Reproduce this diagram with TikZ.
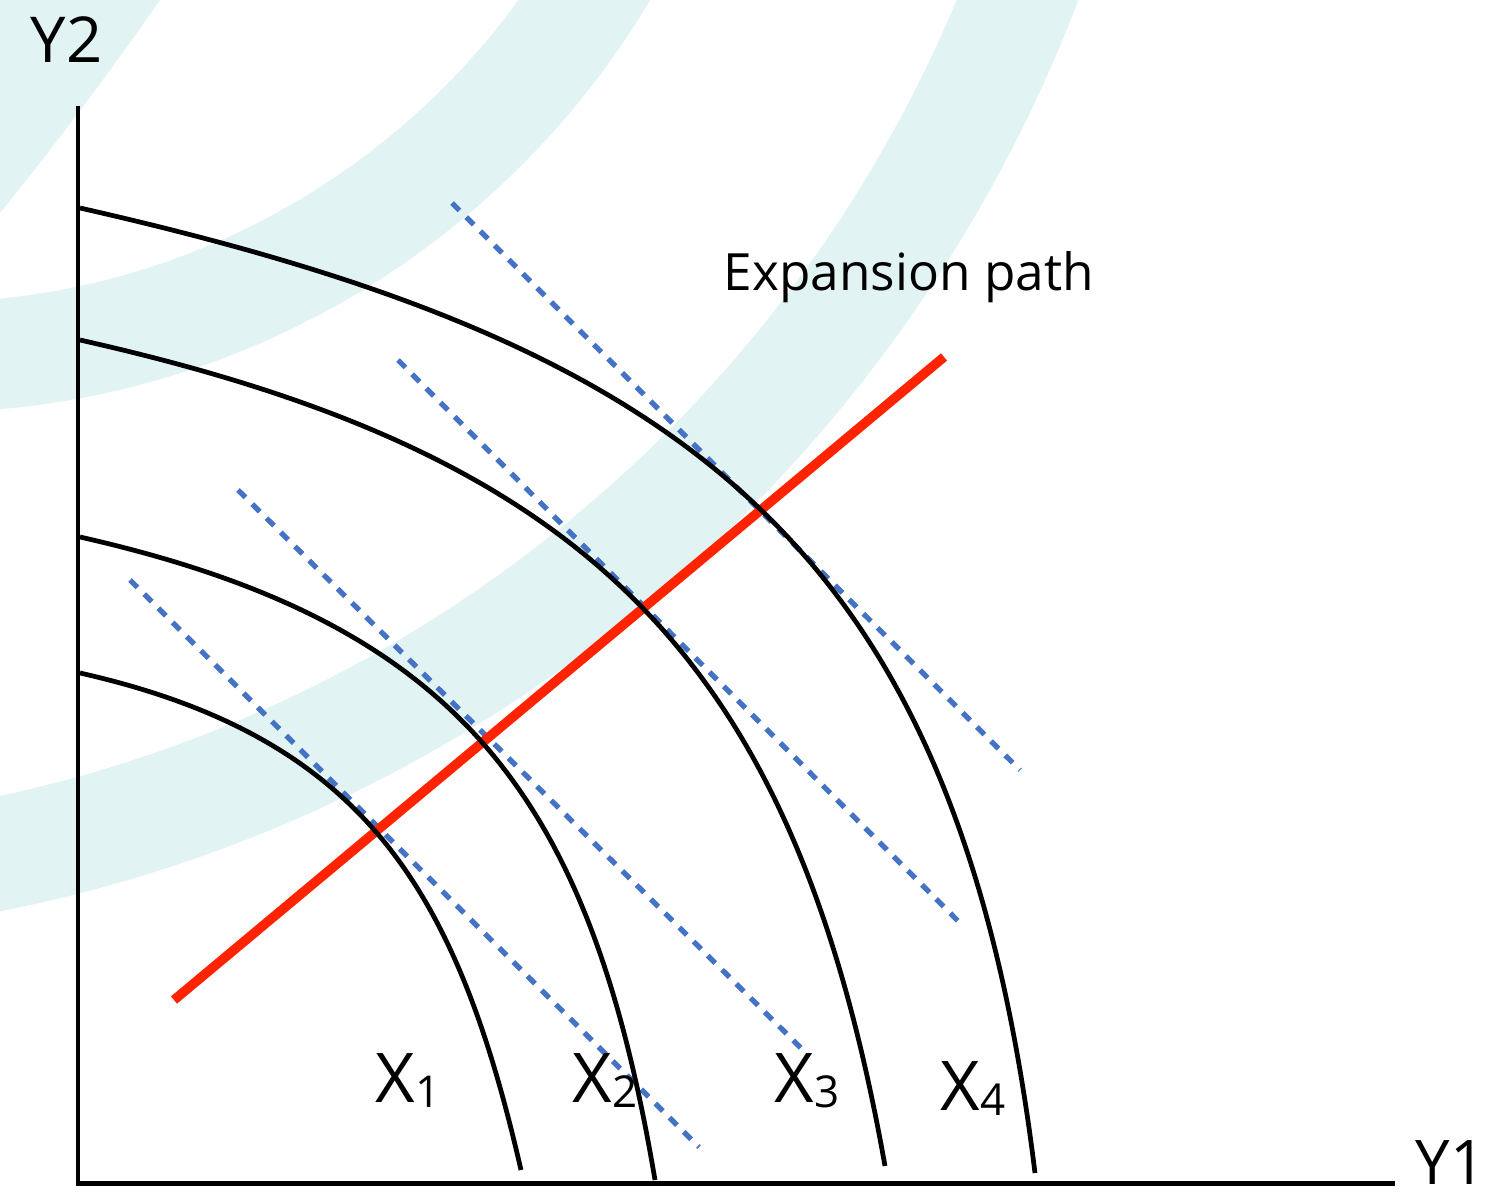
\documentclass[tikz,border=0pt]{standalone}
\usepackage{fontspec}
\setmainfont{Open Sans}
\usepackage{xcolor}

\definecolor{washcol}{RGB}{226,243,243}
\definecolor{pathred}{RGB}{255,35,0}
\definecolor{isoblue}{RGB}{68,114,196}

\tikzset{
  axis/.style={line width=1.42pt},
  ppf/.style={line width=1.35pt},
  isorev/.style={isoblue, line width=1.5pt, dash pattern=on 3pt off 2.7pt},
  exppath/.style={pathred, line width=2.7pt},
  lab/.style={inner sep=0pt, anchor=base west},
}

\newcommand{\xlab}[1]{X\raisebox{-1.7pt}{\fontsize{12.5}{12.5}\selectfont #1}}

\begin{document}
\begin{tikzpicture}[x=0.01cm, y=-0.01cm]
        \useasboundingbox (0,0) rectangle (1496,1200);
        \clip (0,0) rectangle (1496,1200);
        % pale arcs behind the plot
        \fill[washcol] (0,0) -- (160,0) .. controls (110,72) and (55,145) .. (0,213) -- cycle;
        \fill[washcol, even odd rule] (-75,-431) circle[radius=8.43cm] (-75,-431) circle[radius=7.33cm];
        \fill[washcol, even odd rule] (-283,-517) circle[radius=14.55cm] (-283,-517) circle[radius=13.42cm];
        % iso-revenue lines
        \foreach \sx/\sy/\ex/\ey in {452/203/1020/770, 398/360/964/927, 238/490/807/1054, 130/580/699/1147}
            \draw[isorev] (\sx,\sy) -- (\ex,\ey);
        % expansion path
        \coordinate (ep0) at (174,1000);
        \coordinate (ep1) at (944,357);
        \draw[exppath] (ep0) -- (ep1);
        % production possibility curves X1..X4
        \draw[ppf] (80,673) .. controls (363,737) and (456,887) .. (521,1170);
        \draw[ppf] (80,537) .. controls (460,623) and (590,795) .. (655,1180);
        \draw[ppf] (80,340) .. controls (587,454) and (794,654) .. (885,1166);
        \draw[ppf] (80,208) .. controls (694,347) and (958,547) .. (1035,1173);
        % axes
        \coordinate (origin) at (78,1183);
        \coordinate (ytop) at (78,106);
        \coordinate (xend) at (1395,1183);
        \draw[axis] (ytop) -- (origin) -- (xend);
        \node[lab, font=\fontsize{18}{18}\selectfont] (y2lab) at (30,63) {Y2};
        \node[lab, font=\fontsize{17.5}{17.5}\selectfont] (y1lab) at (1415,1184) {Y1};
        \node[lab, font=\fontsize{14.6}{14.6}\selectfont] (explab) at (723,290) {Expansion path};
        \foreach \i/\px/\py in {1/375/1102, 2/572/1102, 3/774/1102, 4/940/1110}
            \node[lab, font=\fontsize{19.5}{19.5}\selectfont] (x\i) at (\px,\py) {\xlab{\i}};
    \end{tikzpicture}
\end{document}
